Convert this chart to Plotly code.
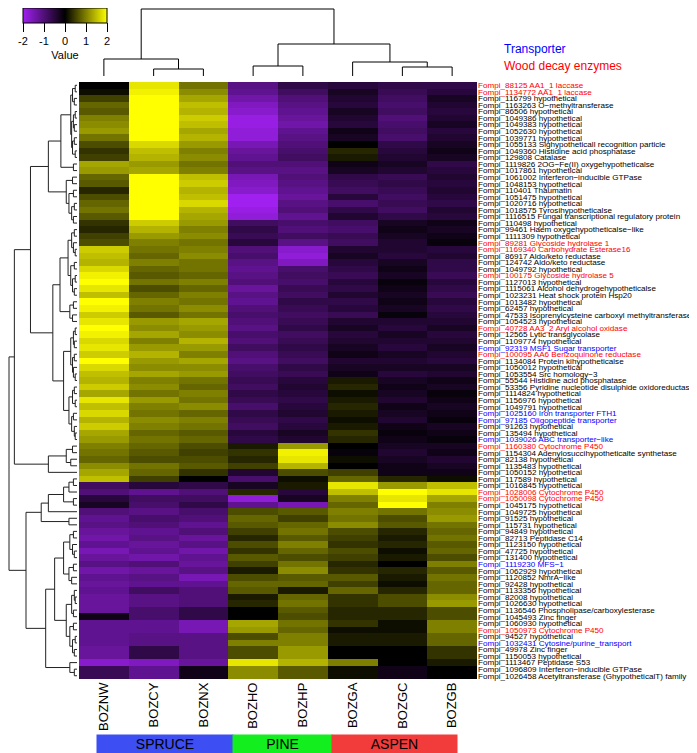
import plotly.graph_objects as go

# ---------------- data ----------------
COLUMNS = ["BOZNW", "BOZCY", "BOZNX", "BOZHO", "BOZHP", "BOZGA", "BOZGC", "BOZGB"]

GENES = [
    "Fompi_88125 AA1_1 laccase", "Fompi_1134772 AA1_1 laccase", "Fompi_116799 hypothetical",
    "Fompi_1163263 O−methyltransferase", "Fompi_86506 hypothetical", "Fompi_1049386 hypothetical",
    "Fompi_1049383 hypothetical", "Fompi_1052630 hypothetical", "Fompi_1039771 hypothetical",
    "Fompi_1055133 Sighypotheticall recognition particle", "Fompi_1049360 Histidine acid phosphatase",
    "Fompi_129808 Catalase", "Fompi_1119826 2OG−Fe(II) oxygehypotheticalse", "Fompi_1017861 hypothetical",
    "Fompi_1061002 Interferon−inducible GTPase", "Fompi_1048153 hypothetical", "Fompi_110401 Thaumatin",
    "Fompi_1051475 hypothetical", "Fompi_1020716 hypothetical", "Fompi_1018575 Tyrosihypotheticalse",
    "Fompi_1116515 Fungal transcriptional regulatory protein", "Fompi_110498 hypothetical",
    "Fompi_99461 Haem oxygehypotheticalse−like", "Fompi_1111309 hypothetical",
    "Fompi_89281 Glycoside hydrolase 1", "Fompi_1169340 Carbohydrate Esterase16",
    "Fompi_86917 Aldo/keto reductase", "Fompi_124742 Aldo/keto reductase", "Fompi_1049792 hypothetical",
    "Fompi_100175 Glycoside hydrolase 5", "Fompi_1127013 hypothetical",
    "Fompi_1115061 Alcohol dehydrogehypotheticalse", "Fompi_1023231 Heat shock protein Hsp20",
    "Fompi_1013482 hypothetical", "Fompi_62457 hypothetical",
    "Fompi_47533 Isoprenylcysteine carboxyl methyltransferase", "Fompi_1054523 hypothetical",
    "Fompi_40728 AA3_2 Aryl alcohol oxidase", "Fompi_12565 Lytic transglycolase",
    "Fompi_1109774 hypothetical", "Fompi_92319 MSF1 Sugar transporter",
    "Fompi_100095 AA6 Benzoquinone reductase", "Fompi_1134084 Protein kihypotheticalse",
    "Fompi_1050012 hypothetical", "Fompi_1053554 Src homology−3", "Fompi_55544 Histidine acid phosphatase",
    "Fompi_53356 Pyridine nucleotide disulphide oxidoreductase", "Fompi_1114824 hypothetical",
    "Fompi_1156976 hypothetical", "Fompi_1049791 hypothetical", "Fompi_1025160 Iron transporter FTH1",
    "Fompi_97185 Oligopeptide transporter", "Fompi_91263 hypothetical", "Fompi_135494 hypothetical",
    "Fompi_1039026 ABC transporter−like", "Fompi_1160380 Cytochrome P450",
    "Fompi_1154304 Adenylosuccihypotheticalte synthetase", "Fompi_82138 hypothetical",
    "Fompi_1135483 hypothetical", "Fompi_1050152 hypothetical", "Fompi_117589 hypothetical",
    "Fompi_1016845 hypothetical", "Fompi_1028006 Cytochrome P450", "Fompi_1050098 Cytochrome P450",
    "Fompi_1045175 hypothetical", "Fompi_1049725 hypothetical", "Fompi_91525 hypothetical",
    "Fompi_115731 hypothetical", "Fompi_94849 hypothetical", "Fompi_82713 Peptidase C14",
    "Fompi_1123150 hypothetical", "Fompi_47725 hypothetical", "Fompi_131400 hypothetical",
    "Fompi_1119230 MFS−1", "Fompi_1062929 hypothetical", "Fompi_1120852 NmrA−like",
    "Fompi_92428 hypothetical", "Fompi_1133356 hypothetical", "Fompi_82008 hypothetical",
    "Fompi_1026630 hypothetical", "Fompi_1136546 Phospholipase/carboxylesterase",
    "Fompi_1045493 Zinc finger", "Fompi_1060930 hypothetical", "Fompi_1050973 Cytochrome P450",
    "Fompi_94527 hypothetical", "Fompi_1032431 Cytosine/purine_transport", "Fompi_49978 Zinc finger",
    "Fompi_1150053 hypothetical", "Fompi_1113467 Peptidase S53",
    "Fompi_1096809 Interferon−inducible GTPase", "Fompi_1026458 Acetyltransferase (GhypotheticalT) family",
]

TRANSPORTER_ROWS = [40, 50, 51, 54, 73, 85]
WOOD_DECAY_ROWS = [0, 1, 24, 25, 29, 37, 41, 55, 62, 63, 83]

BOZNW = [0.0, 0.1, 0.5, 0.8, 0.7, 1.0, 1.1, 1.2, 0.9, 0.6,
         0.4, 0.5, 1.3, 1.2, 0.8, 0.7, 0.3, 0.6, 0.8, 0.9,
         0.7, 0.4, 0.3, 0.5, 0.6, 1.6, 1.5, 1.4, 1.7, 1.9,
         2.0, 1.8, 1.5, 2.0, 1.9, 1.6, 1.8, 2.0, 1.9, 1.7,
         1.8, 1.6, 2.0, 1.7, 1.5, 1.4, 1.6, 1.3, 1.8, 1.5,
         1.7, 1.4, 1.6, 1.3, 1.2, 1.0, 0.9, 0.8, 1.1, 1.3,
         1.5, -0.8, -1.0, -0.5, -0.3, -1.0, -1.2, -1.1, -1.3, -1.4,
         -1.2, -1.5, -1.3, -1.1, -1.4, -1.2, -1.3, -1.2, -1.3, -1.3,
         -1.3, -0.2, -1.2, -1.2, -1.2, -1.2, -1.3, -1.3, -1.7, -0.7, -0.7]
BOZCY = [1.8, 1.9, 2.0, 2.0, 2.0, 2.0, 2.0, 2.0, 2.0, 1.7,
         1.5, 1.4, 1.2, 1.3, 2.0, 2.0, 2.0, 2.0, 2.0, 2.0,
         2.0, 1.6, 1.4, 1.2, 1.0, 0.9, 0.8, 1.0, 0.8, 0.7,
         0.9, 0.6, 0.8, 1.0, 0.9, 0.7, 1.2, 1.1, 1.3, 1.0,
         1.2, 1.4, 1.2, 1.1, 1.3, 1.0, 1.1, 0.9, 1.2, 1.0,
         0.9, 1.1, 1.0, 0.8, 0.9, 0.8, 0.7, 0.6, 0.9, 0.8,
         0.5, -0.5, -1.2, -0.8, -0.9, -1.1, -0.9, -1.0, -1.2, -1.1,
         -1.3, -1.2, -1.4, -1.0, -1.3, -1.1, -1.2, -0.8, -1.1, -1.1,
         -0.9, -0.9, -1.2, -1.2, -1.1, -1.1, -0.6, -0.6, -1.6, -1.2, -1.2]
BOZNX = [0.9, 1.1, 1.3, 1.5, 1.4, 1.6, 1.5, 1.3, 1.4, 1.2,
         1.0, 1.1, 0.9, 1.0, 1.5, 1.6, 1.4, 1.5, 1.7, 1.4,
         1.3, 1.2, 1.0, 1.1, 0.9, 1.0, 1.1, 0.9, 0.9, 0.8,
         1.0, 0.8, 1.0, 0.9, 1.1, 0.9, 1.3, 1.2, 1.1, 1.4,
         1.2, 1.0, 1.3, 1.1, 1.2, 0.9, 0.8, 1.0, 0.9, 1.1,
         0.8, 1.0, 0.9, 0.7, 0.8, 0.6, 0.5, 0.6, 0.7, 0.4,
         0.0, -0.6, -1.0, -0.8, -0.6, -0.9, -1.0, -1.2, -1.0, -1.3,
         -1.1, -1.4, -1.2, -1.3, -1.1, -1.5, -1.2, -1.0, -1.0, -1.0,
         -0.6, -0.6, -1.5, -1.5, -1.1, -1.1, -1.1, -1.1, -1.3, -0.2, -0.2]
BOZHO = [-1.1, -1.2, -1.4, -1.6, -1.7, -1.9, -1.9, -1.8, -1.8, -1.5,
         -1.3, -1.2, -1.0, -1.1, -1.5, -1.6, -1.7, -2.0, -2.0, -1.9,
         -1.8, -0.8, -0.6, -0.7, -0.5, -1.0, -0.9, -1.1, -1.2, -1.1,
         -1.0, -1.3, -1.1, -1.2, -1.0, -0.9, -1.0, -1.1, -0.9, -1.0,
         -0.8, -1.0, -1.1, -0.9, -0.8, -0.7, -0.8, -0.6, -0.7, -0.9,
         -0.6, -0.7, -0.8, -0.5, -0.6, 0.2, 0.4, 0.3, 0.5, -0.4,
         -0.9, -0.3, 0.3, -1.8, -1.2, 0.6, 0.8, 0.7, 0.5, 0.3,
         0.6, 0.4, 0.7, 0.5, 0.2, 0.6, 0.8, 0.7, 0.2, 0.3,
         0.0, 0.0, 1.3, 1.2, 0.6, 1.0, 0.6, 0.6, 1.8, 1.1, 1.1]
BOZHP = [-0.6, -0.8, -1.0, -1.1, -1.2, -1.3, -1.4, -1.2, -1.1, -1.0,
         -0.9, -0.8, -1.0, -1.1, -1.0, -1.1, -1.2, -1.3, -1.1, -1.0,
         -1.2, -0.9, -1.0, -0.8, -1.1, -1.7, -1.8, -1.6, -0.9, -0.8,
         -0.9, -0.7, -0.8, -0.6, -0.7, -0.8, -0.7, -0.6, -0.8, -0.7,
         -0.6, -0.7, -0.8, -0.6, -0.7, -0.5, -0.4, -0.5, -0.6, -0.5,
         -0.4, -0.6, -0.5, -0.3, -0.4, 1.2, 1.9, 1.8, 1.4, 0.6,
         0.1, 0.2, -0.5, -0.3, -1.5, 0.7, 0.5, 0.8, 0.9, 0.7,
         1.0, 0.8, 0.6, 0.9, 1.1, 0.7, 0.8, 0.2, 0.8, 0.9,
         0.7, 0.6, 0.9, 0.8, 1.0, 1.0, 1.2, 1.2, 1.4, 0.7, 0.7]
BOZGA = [-0.5, -0.3, -0.4, -0.5, -0.3, -0.4, -0.5, -0.2, -0.3, 0.0,
         0.3, 0.2, -0.2, -0.3, -0.6, -0.7, -0.8, -0.5, -0.9, -0.6,
         -0.4, -0.8, -0.9, -0.7, -0.8, -0.4, -0.3, -0.5, -0.6, -0.7,
         -0.5, -0.6, -0.4, -0.6, -0.5, -0.7, -0.4, -0.3, -0.5, -0.4,
         -0.3, -0.2, -0.4, -0.3, -0.2, 0.2, 0.3, 0.1, 0.2, 0.3,
         0.2, 0.1, 0.2, 0.4, 0.3, 0.0, -0.1, 0.1, 0.0, 0.5,
         0.8, 1.8, 1.5, 1.0, 0.8, 1.0, 0.9, 1.1, 0.6, 0.5,
         0.4, 0.6, 0.5, 0.3, 0.4, 0.7, 0.5, 0.8, 0.4, 0.4,
         0.3, 0.3, 0.4, 0.1, 0.2, 0.2, 0.0, 0.0, 1.0, 0.1, 0.1]
BOZGC = [-0.6, -0.7, -0.8, -0.9, -0.8, -1.0, -0.9, -0.8, -0.9, -0.6,
         -0.5, -0.4, -0.3, -0.4, -0.7, -0.6, -0.7, -0.8, -0.7, -0.8,
         -0.6, -0.3, -0.2, -0.3, -0.4, -0.4, -0.5, -0.3, -0.2, -0.3,
         -0.1, -0.2, -0.3, -0.2, -0.3, -0.1, -0.4, -0.5, -0.3, -0.4,
         -0.5, -0.3, -0.4, -0.3, -0.5, -0.3, -0.2, -0.3, -0.4, -0.2,
         -0.3, -0.4, -0.2, -0.1, -0.2, -0.3, -0.4, -0.3, -0.2, -0.2,
         0.3, 1.2, 2.0, 1.8, 2.0, 0.9, 0.6, 0.7, 0.3, 0.2,
         0.3, 0.1, 0.2, 0.0, 0.3, 0.2, 0.1, 0.3, 0.6, 0.6,
         0.3, 0.3, 0.1, 0.1, 0.2, 0.2, 0.0, 0.0, 0.0, -0.2, -0.2]
BOZGB = [-0.6, -0.5, -0.3, -0.4, -0.5, -0.4, -0.3, -0.5, -0.4, -0.3,
         -0.2, -0.3, -0.6, -0.5, -0.4, -0.5, -0.4, -0.5, -0.6, -0.4,
         -0.5, -0.2, -0.3, -0.2, -0.1, -0.5, -0.4, -0.6, -0.6, -0.7,
         -0.5, -0.6, -0.7, -0.5, -0.6, -0.5, -0.4, -0.3, -0.5, -0.4,
         -0.3, -0.4, -0.5, -0.3, -0.4, -0.2, -0.3, -0.1, -0.2, -0.3,
         -0.2, -0.1, -0.3, -0.2, -0.1, -0.3, -0.2, -0.4, -0.3, -0.2,
         0.1, 1.5, 1.8, 1.3, 1.0, 1.1, 1.2, 0.9, 0.8, 0.9,
         0.7, 0.8, 0.6, 1.0, 0.7, 0.9, 0.8, 0.8, 1.1, 1.2,
         0.6, 0.6, 1.0, 1.0, 0.8, 0.8, 0.4, 0.4, 0.2, 0.0, 0.0]

# dendrograms: [merge height, left, right]; leaves are row/column indices
COL_TREE = [67, [17, 0, [7, 1, 2]], [32, [10, 3, 4], [14, 5, [9, 6, 7]]]]

ROW_TREE = [76,
    [70,
        [52,
            [32,
                [18,
                    [7, [5, [2, 0, 1], [3, 2, 3]],
                        [6, [4, [2, 4, 5], [3, 6, 7]], [5, [3, 8, 9], [2, 10, 11]]]],
                    [4, 12, 13]],
                [12, [5, 14, 15], [9, [4, 16, 17], [6, [3, 18, 19], [4, 20, 21]]]]],
            [27,
                [19,
                    [10, [6, [3, 22, 23], [4, 24, [2, 25, 26]]],
                         [7, [3, 27, 28], [5, [2, 29, 30], [3, 31, 32]]]],
                    [8, [4, 33, 34], [5, 35, 36]]],
                [15,
                    [7, [4, [2, 37, 38], [3, 39, 40]], [5, [3, 41, 42], [4, 43, [2, 44, 45]]]],
                    [9, [5, [3, 46, 47], [2, 48, 49]], [6, [4, 50, 51], [3, 52, [2, 53, 54]]]]]]],
        [32, [12, [5, 55, 56], [7, 57, 58]], 59]],
    [57,
        [40,
            [32, [15, [9, [4, 60, 61], 62], [4, 63, 64]], 65],
            [9, 66, 67]],
        [35,
            [25,
                [15, [8, [4, 68, 69], [5, 70, [3, 71, 72]]], [9, [4, 73, 74], [6, 75, 76]]],
                [12, [6, [3, 77, [2, 78, 79]], [4, 80, 81]],
                     [8, [4, 82, 83], [5, [2, 84, 85], [3, 86, 87]]]]],
            [8, 88, [3, 89, 90]]]]]

GROUPS = ["SPRUCE", "PINE", "ASPEN"]
LEGEND_ITEMS = ["Transporter", "Wood decay enzymes"]

# ---------------- styling / layout constants (reference-window pixels) ----------------
PAGE_OFFSET = 8                      # default body margin of the html page
W, H = 697 - PAGE_OFFSET, 753 - PAGE_OFFSET
FONT = "Liberation Sans, Arial, sans-serif"
HM_L, HM_R, HM_T, HM_B = 79, 477, 82, 679
GROUP_COLORS = ["#3D4EF2", "#12EE1E", "#F23B3B"]
GROUP_BOX = [(97, 233), (233, 332), (332, 457)]
GROUP_Y = (735, 753)
LEGEND_COLORS = ["#0000FF", "#FF0000"]
LEGEND_POS = [(503, 49), (503, 66)]
KEY_LEFT, KEY_WIDTH, KEY_BOTTOM = 23, 84, 23


def px_x(p):
    return (p - PAGE_OFFSET) / W


def px_y(p):
    return 1 - (p - PAGE_OFFSET) / H


def dendro_segments(tree):
    pos_list, h_list = [], []

    def walk(node):
        if isinstance(node, int):
            return float(node), 0.0
        h, left, right = node
        pl, hl = walk(left)
        pr, hr = walk(right)
        pos_list.extend([pl, pl, pr, pr, None])
        h_list.extend([hl, h, h, hr, None])
        return (pl + pr) / 2, h

    walk(tree)
    return pos_list, h_list


columns_data = [BOZNW, BOZCY, BOZNX, BOZHO, BOZHP, BOZGA, BOZGC, BOZGB]
z = [list(row) for row in zip(*columns_data)]
n_rows = len(GENES)


def row_label(i, name):
    if i in TRANSPORTER_ROWS:
        return f'<span style="color:{LEGEND_COLORS[0]}">{name}</span>'
    if i in WOOD_DECAY_ROWS:
        return f'<span style="color:{LEGEND_COLORS[1]}">{name}</span>'
    return name


fig = go.Figure()

fig.add_trace(go.Heatmap(
    z=z, x=list(range(len(COLUMNS))), y=list(range(n_rows)),
    zmin=-2, zmax=2,
    colorscale=[[0, "#A020F0"], [0.5, "#000000"], [1, "#FFFF00"]],
    xaxis="x", yaxis="y",
    colorbar=dict(
        orientation="h", lenmode="pixels", len=KEY_WIDTH, thicknessmode="pixels",
        thickness=KEY_BOTTOM - PAGE_OFFSET,
        x=px_x(KEY_LEFT), xanchor="left", xpad=0, y=1, yanchor="top", ypad=0,
        outlinewidth=1, outlinecolor="black",
        tickvals=[-2, -1, 0, 1, 2], ticktext=["-2", "-1", "0", "1", "2"],
        ticks="outside", ticklen=9, tickwidth=1, tickcolor="black",
        tickfont=dict(family=FONT, size=11, color="black"),
        title=dict(text="Value", side="bottom", font=dict(family=FONT, size=11, color="black")),
    ),
    hoverinfo="skip",
))

cx, ch = dendro_segments(COL_TREE)
fig.add_trace(go.Scatter(x=cx, y=ch, mode="lines", line=dict(color="black", width=1),
                         xaxis="x2", yaxis="y2", hoverinfo="skip", showlegend=False))

ry, rh = dendro_segments(ROW_TREE)
fig.add_trace(go.Scatter(x=rh, y=ry, mode="lines", line=dict(color="#222222", width=1),
                         xaxis="x3", yaxis="y3", hoverinfo="skip", showlegend=False))

hm_xdom = [px_x(HM_L), px_x(HM_R)]
hm_ydom = [px_y(HM_B), px_y(HM_T)]
xrange_cols = [-0.5, len(COLUMNS) - 0.5]
yrange_rows = [n_rows - 0.5, -0.5]

# column dendrogram: leaves end 6 px above heatmap, 1 unit = 1 px
col_dend_range = [-(HM_T - 76), 76 - PAGE_OFFSET]
# row dendrogram: leaves end 2 px left of heatmap, root ~1 px inside left edge
row_scale = (77 - (PAGE_OFFSET + 1)) / 76.0
row_dend_range = [(77 - PAGE_OFFSET) / row_scale, -(HM_L - 77) / row_scale]

axis_off = dict(showgrid=False, zeroline=False, showline=False, showticklabels=False,
                ticks="", automargin=False, fixedrange=True)

annotations = []
for (name, color, (x0, x1)) in zip(GROUPS, GROUP_COLORS, GROUP_BOX):
    annotations.append(dict(
        x=px_x((x0 + x1) / 2), y=px_y((GROUP_Y[0] + GROUP_Y[1]) / 2), xref="paper", yref="paper",
        xanchor="center", yanchor="middle", showarrow=False,
        text=name, width=x1 - x0, height=GROUP_Y[1] - GROUP_Y[0], bgcolor=color, borderpad=0,
        font=dict(family=FONT, size=14, color="black"),
    ))
for name, color, (lx, ly) in zip(LEGEND_ITEMS, LEGEND_COLORS, LEGEND_POS):
    annotations.append(dict(
        x=px_x(lx), y=px_y(ly), xref="paper", yref="paper", xanchor="left", yanchor="middle",
        showarrow=False, borderpad=0, text=name, font=dict(family=FONT, size=12, color=color),
    ))

fig.update_layout(
    width=W, height=H, autosize=False,
    margin=dict(l=0, r=0, t=0, b=0, pad=0),
    paper_bgcolor="white", plot_bgcolor="white",
    font=dict(family=FONT, color="black"),
    showlegend=False,
    xaxis=dict(domain=hm_xdom, range=xrange_cols, showgrid=False, zeroline=False, showline=False,
               tickmode="array", tickvals=list(range(len(COLUMNS))), ticktext=COLUMNS,
               tickangle=-90, ticks="", tickfont=dict(family=FONT, size=13, color="black"),
               automargin=False, fixedrange=True),
    yaxis=dict(domain=hm_ydom, range=yrange_rows, side="right", showgrid=False, zeroline=False,
               showline=False, tickmode="array", tickvals=list(range(n_rows)),
               ticktext=[row_label(i, g) for i, g in enumerate(GENES)], ticks="",
               tickfont=dict(family=FONT, size=8.1, color="black"), automargin=False,
               fixedrange=True),
    xaxis2=dict(domain=hm_xdom, range=xrange_cols, anchor="y2", **axis_off),
    yaxis2=dict(domain=[px_y(HM_T), 1], range=col_dend_range, anchor="x2", **axis_off),
    xaxis3=dict(domain=[0, px_x(HM_L)], range=row_dend_range, anchor="y3", **axis_off),
    yaxis3=dict(domain=hm_ydom, range=yrange_rows, anchor="x3", **axis_off),
    annotations=annotations,
)

fig.write_html("out.html")
